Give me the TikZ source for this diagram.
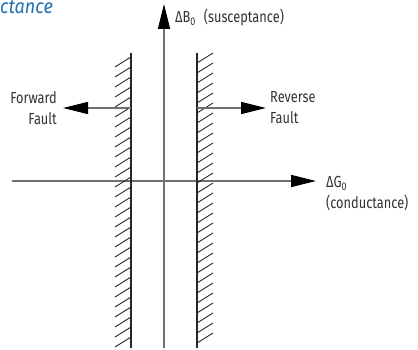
\documentclass[tikz,border=0pt]{standalone}
\usepackage{fontspec}
\setmainfont{Fira Sans}[FakeStretch=0.8]
\newfontfamily\titlefont{Fira Sans}[FakeStretch=0.9]
\usetikzlibrary{arrows.meta}
\definecolor{axisgray}{HTML}{707070}
\definecolor{txt}{HTML}{333333}
\definecolor{titleblue}{HTML}{1F6FB2}
\tikzset{
  axisline/.style={draw=axisgray, line width=1.4pt},
  arrowline/.style={axisline, -{Triangle[length=25pt,width=12pt,fill=black,color=black]}},
  wall/.style={draw=black!85, line width=1.3pt},
  hatch/.style={draw=black!85, line width=0.9pt},
  lbl/.style={text=txt, font=\fontsize{16}{21.5}\selectfont, inner sep=0pt, align=#1},
  lbl/.default=left
}
\begin{document}
\begin{tikzpicture}[x=1pt,y=-1pt]
\useasboundingbox (0,0) rectangle (418,350);
% title fragment
\node[anchor=base west, inner sep=0pt, text=titleblue, font=\titlefont\fontsize{20}{22}\selectfont\itshape] (title) at (0,14) {ctance};
% axes
\coordinate (vb) at (164,348);
\coordinate (vt) at (164,4);
\coordinate (hl) at (12,181);
\coordinate (hr) at (316,181);
\draw[arrowline] (vb) -- (vt);
\draw[arrowline] (hl) -- (hr);
% walls
\coordinate (lwt) at (131,53);
\coordinate (lwb) at (131,348);
\coordinate (rwt) at (197,53);
\coordinate (rwb) at (197,348);
\draw[wall] (lwt) -- (lwb);
\draw[wall] (rwt) -- (rwb);
\foreach \y in {57,67,...,337} {
  \draw[hatch] (115,\y+10) -- (131,\y);
}
\foreach \y in {53,63,...,333} {
  \draw[hatch] (197,\y+10) -- (213,\y);
}
% fault arrows
\coordinate (fa) at (131,108);
\coordinate (ft) at (63,108);
\coordinate (ra) at (197,108);
\coordinate (rt) at (266,108);
\draw[arrowline] (fa) -- (ft);
\draw[arrowline] (ra) -- (rt);
% labels
\node[lbl=left, anchor=base west] (bl) at (175,23) {ΔB\textsubscript{0}\enspace(susceptance)};
\node[lbl=right, anchor=north east] (fwd) at (57,91) {Forward\\Fault};
\node[lbl=left, anchor=north west] (rev) at (270,91) {Reverse\\Fault};
\node[lbl=left, anchor=north west] (gl) at (326,176) {ΔG\textsubscript{0}\\(conductance)};
\end{tikzpicture}
\end{document}
